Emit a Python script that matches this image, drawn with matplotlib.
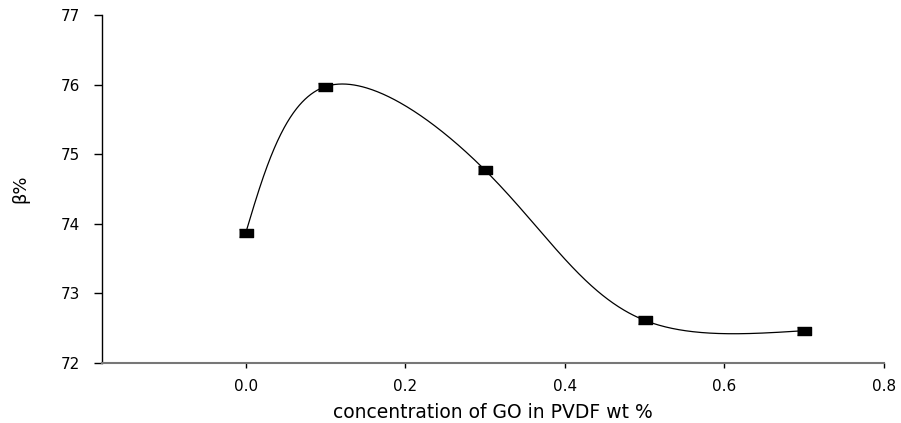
import matplotlib
matplotlib.use('Agg')
import matplotlib.pyplot as plt
import numpy as np

plt.rcParams['font.family'] = ['DejaVu Sans']

go_conc = [0.0, 0.1, 0.3, 0.5, 0.7]
beta_pct = [73.86, 75.97, 74.77, 72.61, 72.46]


def natural_spline(t, v, ts):
    # natural cubic spline of v(t), solved as a small linear system
    t = np.asarray(t, float)
    v = np.asarray(v, float)
    n = len(t)
    h = np.diff(t)
    A = np.zeros((n, n))
    b = np.zeros(n)
    A[0, 0] = A[-1, -1] = 1.0
    for i in range(1, n - 1):
        A[i, i - 1] = h[i - 1]
        A[i, i] = 2 * (h[i - 1] + h[i])
        A[i, i + 1] = h[i]
        b[i] = 6 * ((v[i + 1] - v[i]) / h[i] - (v[i] - v[i - 1]) / h[i - 1])
    m = np.linalg.solve(A, b)
    idx = np.clip(np.searchsorted(t, ts, side='right') - 1, 0, n - 2)
    hi = h[idx]
    t0 = t[idx + 1] - ts
    t1 = ts - t[idx]
    return (m[idx] * t0**3 / (6 * hi) + m[idx + 1] * t1**3 / (6 * hi)
            + (v[idx] / hi - m[idx] * hi / 6) * t0
            + (v[idx + 1] / hi - m[idx + 1] * hi / 6) * t1)


fig = plt.figure(figsize=(9.01, 4.23), dpi=100)
ax = fig.add_axes([0.1132, 0.1426, 0.8678, 0.822])
ax.set_xlim(-0.18, 0.8)
ax.set_ylim(72, 77)

# smooth curve: parametric spline through the points in screen space
pts = ax.transData.transform(np.column_stack([go_conc, beta_pct]))
seg = np.hypot(*np.diff(pts, axis=0).T)
tk = np.concatenate([[0], np.cumsum(seg)])
ts = np.linspace(0, tk[-1], 600)
curve = np.column_stack([natural_spline(tk, pts[:, 0], ts),
                         natural_spline(tk, pts[:, 1], ts)])
curve = ax.transData.inverted().transform(curve)

ax.plot(curve[:, 0], curve[:, 1], color='black', lw=0.9, zorder=2)
rect = [(-1, -0.62), (1, -0.62), (1, 0.62), (-1, 0.62)]
ax.plot(go_conc, beta_pct, ls='none', marker=rect, ms=9.5,
        color='black', zorder=3)

ax.set_xticks([0.0, 0.2, 0.4, 0.6, 0.8])
ax.set_xticklabels(['0.0', '0.2', '0.4', '0.6', '0.8'])
ax.set_yticks([72, 73, 74, 75, 76, 77])

for s in ['top', 'right']:
    ax.spines[s].set_visible(False)
ax.spines['left'].set_color('black')
ax.spines['left'].set_linewidth(1.0)
ax.spines['bottom'].set_color('#777777')
ax.spines['bottom'].set_linewidth(1.5)

ax.tick_params(axis='y', direction='out', length=6, width=1.0,
               labelsize=11, pad=10)
ax.tick_params(axis='x', direction='out', length=3.5, width=1.0,
               labelsize=11, pad=8)

ax.set_xlabel('concentration of GO in PVDF wt %', fontsize=13.5, labelpad=7)
ax.set_ylabel('β%', fontsize=13, labelpad=22)

fig.savefig('out.png', dpi=100)
